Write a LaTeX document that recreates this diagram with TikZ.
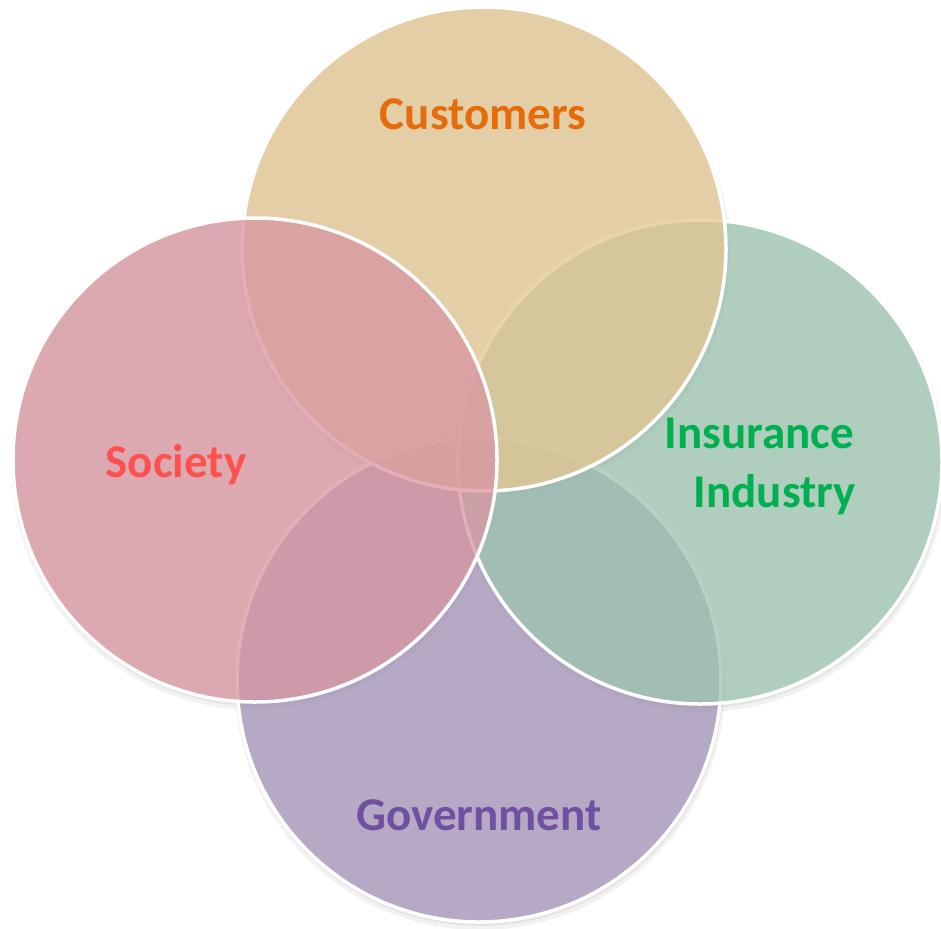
\documentclass[tikz,border=0pt]{standalone}
\usepackage{fontspec}
\setmainfont{Carlito}

\definecolor{custfill}{RGB}{228,199,146}
\definecolor{socfill}{RGB}{217,150,161}
\definecolor{insfill}{RGB}{158,198,177}
\definecolor{govfill}{RGB}{167,150,187}
\definecolor{custtext}{RGB}{228,108,10}
\definecolor{soctext}{RGB}{255,80,80}
\definecolor{instext}{RGB}{0,176,80}
\definecolor{govtext}{RGB}{112,80,160}

\begin{document}
\begin{tikzpicture}[x=1pt, y=-1pt,
                    ring/.style = {circle, minimum size=484pt, inner sep=0pt,
                                   draw=white, line width=3.5pt, fill opacity=0.76},
                    lbl/.style = {font=\fontsize{47}{59}\selectfont\bfseries, inner sep=0pt}]
\useasboundingbox (0,0) rectangle (941,928);
\coordinate (govc)  at (479,680);
\coordinate (insc)  at (700,462);
\coordinate (custc) at (484,249);
\coordinate (socc)  at (255,460);
% soft shadows under all circles
\foreach \c in {govc,insc,custc,socc} {
  \fill[black, opacity=0.05] ([shift={(1,5)}]\c) circle (245);
  \fill[black, opacity=0.06] ([shift={(1,3)}]\c) circle (243);
}
\node[ring, fill=govfill]  (gov)  at (govc)  {};
\node[ring, fill=insfill]  (ins)  at (insc)  {};
\node[ring, fill=custfill] (cust) at (custc) {};
\node[ring, fill=socfill]  (soc)  at (socc)  {};
\node[lbl, text=custtext, anchor=base] (custlbl) at (483,130) {Customers};
\node[lbl, text=soctext, anchor=base] (soclbl) at (176,477) {Society};
\node[lbl, text=instext, anchor=base east] (inslbl) at (854,448) {Insurance};
\node[lbl, text=instext, anchor=base east] (indlbl) at (856,507) {Industry};
\node[lbl, text=govtext, anchor=base] (govlbl) at (479,830) {Government};
\end{tikzpicture}
\end{document}
